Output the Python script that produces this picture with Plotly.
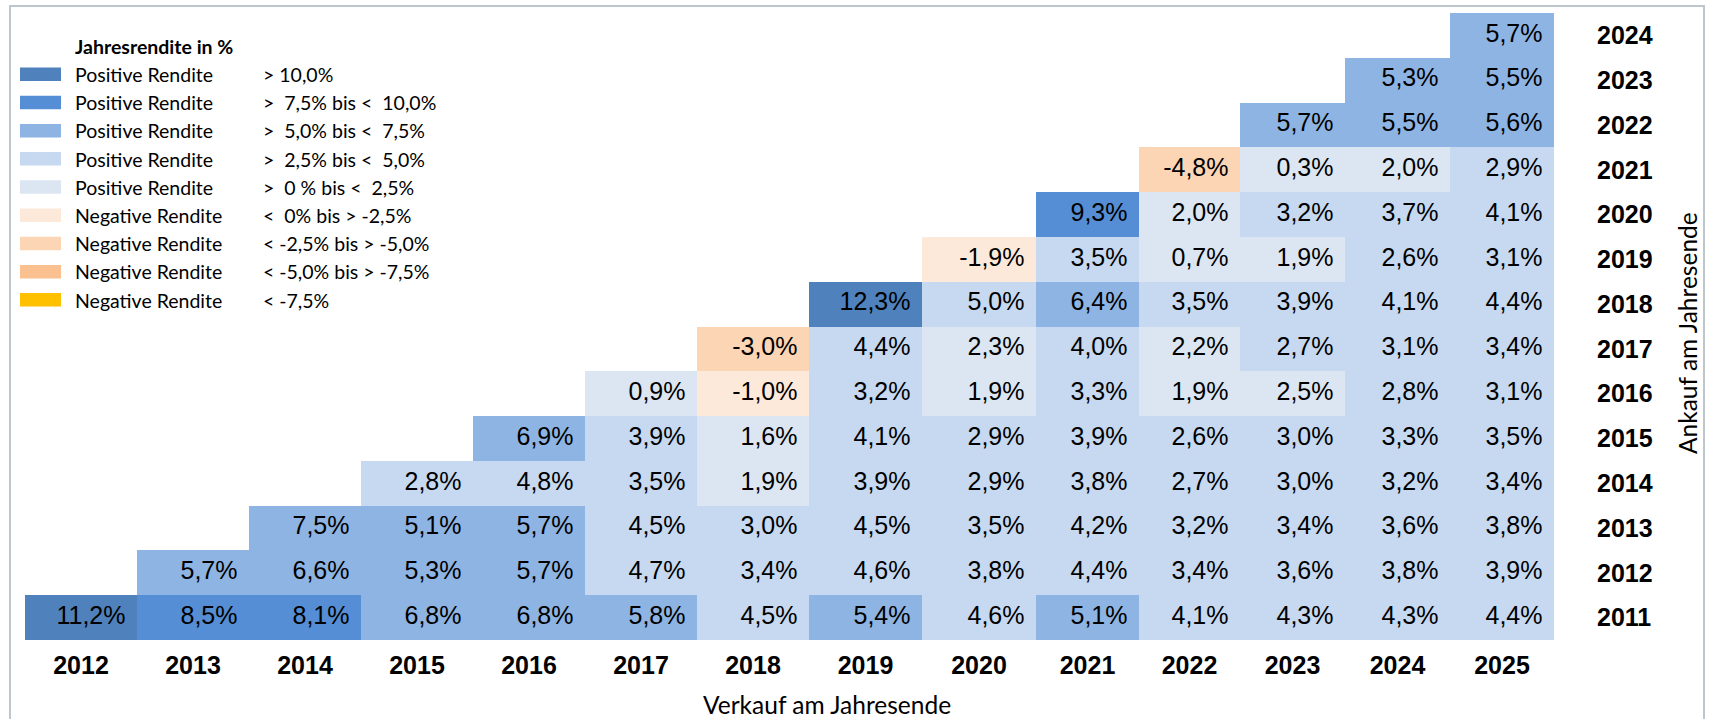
import plotly.graph_objects as go

# ---------------------------------------------------------------------------
# Data: annualised return (%) for buying at year end (rows) and selling at
# year end (columns). Each list starts with the first possible sale year.
# ---------------------------------------------------------------------------
SELL_YEARS = [2012, 2013, 2014, 2015, 2016, 2017, 2018, 2019, 2020, 2021, 2022, 2023, 2024, 2025]
BUY_YEARS = [2011, 2012, 2013, 2014, 2015, 2016, 2017, 2018, 2019, 2020, 2021, 2022, 2023, 2024]

RET_2011 = [11.2, 8.5, 8.1, 6.8, 6.8, 5.8, 4.5, 5.4, 4.6, 5.1, 4.1, 4.3, 4.3, 4.4]
RET_2012 = [5.7, 6.6, 5.3, 5.7, 4.7, 3.4, 4.6, 3.8, 4.4, 3.4, 3.6, 3.8, 3.9]
RET_2013 = [7.5, 5.1, 5.7, 4.5, 3.0, 4.5, 3.5, 4.2, 3.2, 3.4, 3.6, 3.8]
RET_2014 = [2.8, 4.8, 3.5, 1.9, 3.9, 2.9, 3.8, 2.7, 3.0, 3.2, 3.4]
RET_2015 = [6.9, 3.9, 1.6, 4.1, 2.9, 3.9, 2.6, 3.0, 3.3, 3.5]
RET_2016 = [0.9, -1.0, 3.2, 1.9, 3.3, 1.9, 2.5, 2.8, 3.1]
RET_2017 = [-3.0, 4.4, 2.3, 4.0, 2.2, 2.7, 3.1, 3.4]
RET_2018 = [12.3, 5.0, 6.4, 3.5, 3.9, 4.1, 4.4]
RET_2019 = [-1.9, 3.5, 0.7, 1.9, 2.6, 3.1]
RET_2020 = [9.3, 2.0, 3.2, 3.7, 4.1]
RET_2021 = [-4.8, 0.3, 2.0, 2.9]
RET_2022 = [5.7, 5.5, 5.6]
RET_2023 = [5.3, 5.5]
RET_2024 = [5.7]

RETURNS = [RET_2011, RET_2012, RET_2013, RET_2014, RET_2015, RET_2016, RET_2017,
           RET_2018, RET_2019, RET_2020, RET_2021, RET_2022, RET_2023, RET_2024]

# Legend classes (same order as the colour bins)
LEGEND_TITLE = "Jahresrendite in %"
LEGEND_LABELS = ["Positive Rendite"] * 5 + ["Negative Rendite"] * 4
LEGEND_RANGES = [
    "> 10,0%",
    ">\u00a0\u00a07,5% bis <\u00a0\u00a010,0%",
    ">\u00a0\u00a05,0% bis <\u00a0\u00a07,5%",
    ">\u00a0\u00a02,5% bis <\u00a0\u00a05,0%",
    ">\u00a0\u00a00 % bis <\u00a0\u00a02,5%",
    "<\u00a0\u00a00% bis > -2,5%",
    "< -2,5% bis > -5,0%",
    "< -5,0% bis > -7,5%",
    "< -7,5%",
]
BIN_COLORS = ["#4F81BD", "#558ED5", "#8EB4E3", "#C6D9F1", "#DCE6F2",
              "#FDE9D9", "#FCD5B5", "#FAC090", "#FFC000"]

# ---------------------------------------------------------------------------
# Layout constants (pixels)
# ---------------------------------------------------------------------------
W, H = 1713, 719
M_L, M_R, M_T, M_B = 25, 159, 13, 79
PLOT_W = W - M_L - M_R
PLOT_H = H - M_T - M_B
COL_WIDTHS = [112, 112, 112, 112, 112, 112, 112, 113, 114, 103, 101, 105, 105, 104]
TEXT_PAD = 11.5

VALUE_FONT = dict(family="Liberation Sans, Arial", size=25, color="#000000")
TICK_FONT = dict(family="Liberation Sans, Arial", size=25, color="#000000", weight="bold")
LABEL_FONT = "Lato, Carlito, Calibri, sans-serif"
LEGEND_SIZE = 19.5
TITLE_SIZE = 24.5


def bin_index(v):
    if v > 10:
        return 0
    if v > 7.5:
        return 1
    if v > 5:
        return 2
    if v > 2.5:
        return 3
    if v >= 0:
        return 4
    if v >= -2.5:
        return 5
    if v >= -5:
        return 6
    if v >= -7.5:
        return 7
    return 8


def fmt(v):
    return f"{v:.1f}".replace(".", ",") + "%"


def px_x(px):
    return (px - M_L) / PLOT_W


def px_y(py):
    return (H - M_B - py) / PLOT_H


# column edges along the x axis (axis units == pixels)
edges = [0]
for w in COL_WIDTHS:
    edges.append(edges[-1] + w)
centers = [(edges[j] + edges[j + 1]) / 2 for j in range(len(COL_WIDTHS))]

n_rows, n_cols = len(BUY_YEARS), len(SELL_YEARS)
z = [[None] * n_cols for _ in range(n_rows)]
hover = [[None] * n_cols for _ in range(n_rows)]
tx, ty, tt = [], [], []
for i, row in enumerate(RETURNS):
    for k, v in enumerate(row):
        j = i + k
        z[i][j] = bin_index(v)
        hover[i][j] = f"Ankauf {BUY_YEARS[i]} / Verkauf {SELL_YEARS[j]}: {fmt(v)}"
        tx.append(edges[j + 1] - TEXT_PAD)
        ty.append(i)
        tt.append(fmt(v))

nb = len(BIN_COLORS)
colorscale = []
for k, c in enumerate(BIN_COLORS):
    colorscale.append([k / nb, c])
    colorscale.append([(k + 1) / nb, c])

fig = go.Figure()
fig.add_trace(go.Heatmap(
    x=edges, y=list(range(n_rows)), z=z,
    colorscale=colorscale, zmin=-0.5, zmax=nb - 0.5,
    showscale=False, hoverongaps=False,
    text=hover, hoverinfo="text",
))
fig.add_trace(go.Scatter(
    x=tx, y=ty, text=tt, mode="text",
    textposition="middle left", textfont=VALUE_FONT,
    hoverinfo="skip", showlegend=False,
))

# Legend block drawn in the empty upper-left triangle
shapes = []
annotations = []
LEG_Y0, LEG_DY = 74.5, 28.2
annotations.append(dict(
    xref="paper", yref="paper", x=px_x(73), y=px_y(46.5),
    xanchor="left", yanchor="middle", showarrow=False,
    text=f"<b>{LEGEND_TITLE}</b>",
    font=dict(family=LABEL_FONT, size=LEGEND_SIZE, color="#000000"),
))
for k, (lab, rng) in enumerate(zip(LEGEND_LABELS, LEGEND_RANGES)):
    yc = LEG_Y0 + k * LEG_DY
    shapes.append(dict(
        type="rect", xref="paper", yref="paper",
        x0=px_x(20), x1=px_x(61), y0=px_y(yc + 6.5), y1=px_y(yc - 7),
        fillcolor=BIN_COLORS[k], line=dict(width=0),
    ))
    annotations.append(dict(
        xref="paper", yref="paper", x=px_x(73), y=px_y(yc),
        xanchor="left", yanchor="middle", showarrow=False, text=lab,
        font=dict(family=LABEL_FONT, size=LEGEND_SIZE, color="#000000"),
    ))
    annotations.append(dict(
        xref="paper", yref="paper", x=px_x(261), y=px_y(yc),
        xanchor="left", yanchor="middle", showarrow=False, text=rng,
        font=dict(family=LABEL_FONT, size=LEGEND_SIZE, color="#000000"),
    ))

# Axis titles
annotations.append(dict(
    xref="paper", yref="paper", x=px_x(827), y=px_y(704),
    xanchor="center", yanchor="middle", showarrow=False,
    text="Verkauf am Jahresende",
    font=dict(family=LABEL_FONT, size=TITLE_SIZE, color="#000000"),
))
annotations.append(dict(
    xref="paper", yref="paper", x=px_x(1687), y=px_y(333),
    xanchor="center", yanchor="middle", showarrow=False, textangle=-90,
    text="Ankauf am Jahresende",
    font=dict(family=LABEL_FONT, size=TITLE_SIZE, color="#000000"),
))

# Outer frame
shapes.append(dict(
    type="rect", xref="paper", yref="paper",
    x0=px_x(10), x1=px_x(1704), y0=px_y(760), y1=px_y(6),
    line=dict(color="#BCC6CC", width=2), fillcolor="rgba(0,0,0,0)", layer="below",
))

fig.update_layout(
    width=W, height=H,
    margin=dict(l=M_L, r=M_R, t=M_T, b=M_B, pad=0),
    paper_bgcolor="white", plot_bgcolor="white",
    showlegend=False,
    shapes=shapes, annotations=annotations,
    xaxis=dict(
        range=[0, edges[-1]], showgrid=False, zeroline=False, showline=False,
        tickmode="array", tickvals=centers, ticktext=[str(y) for y in SELL_YEARS],
        tickfont=TICK_FONT, ticks="outside", ticklen=3, tickcolor="rgba(0,0,0,0)",
        fixedrange=True,
    ),
    yaxis=dict(
        range=[-0.5, n_rows - 0.5], side="right", showgrid=False, zeroline=False,
        showline=False, tickmode="array", tickvals=list(range(n_rows)),
        ticktext=[str(y) for y in BUY_YEARS], tickfont=TICK_FONT,
        ticks="outside", ticklen=37, tickcolor="rgba(0,0,0,0)", fixedrange=True,
    ),
)

fig.write_html("out.html")
